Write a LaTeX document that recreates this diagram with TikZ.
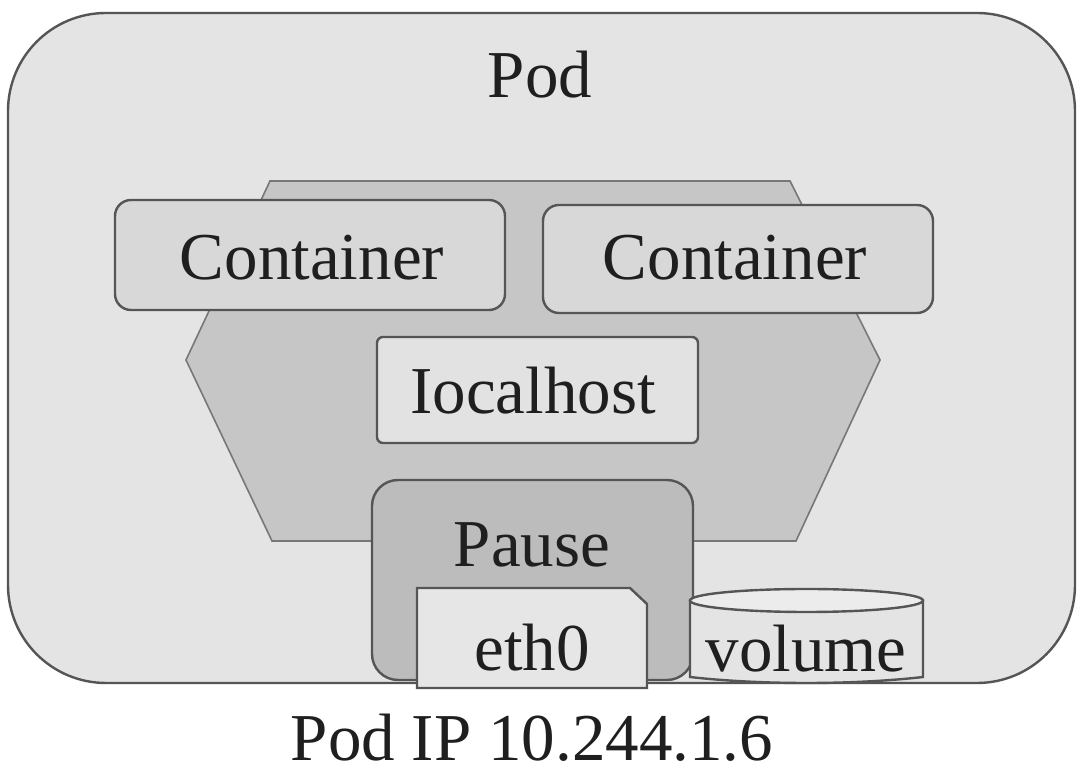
\documentclass[tikz,border=0pt]{standalone}
\usepackage{fontspec}
\setmainfont{Liberation Serif}
\definecolor{edge}{RGB}{85,85,85}
\definecolor{podfill}{RGB}{228,228,228}
\definecolor{hexfill}{RGB}{198,198,198}
\definecolor{contfill}{RGB}{216,216,216}
\definecolor{lhfill}{RGB}{226,226,226}
\definecolor{pausefill}{RGB}{188,188,188}
\definecolor{ethfill}{RGB}{230,230,230}
\definecolor{volfill}{RGB}{228,228,228}
\definecolor{voltop}{RGB}{236,236,236}
\begin{document}
\begin{tikzpicture}[x=0.5pt,y=-0.5pt,
  lbl/.style={font=\fontsize{33.5}{40}\selectfont, text=black!88, anchor=base, inner sep=0pt},
  box/.style={draw=edge, line width=1.2pt},
  boxnode/.style={box, inner sep=0pt, outer sep=0pt}]
\useasboundingbox (0,0) rectangle (1084,774);
\fill[white] (0,0) rectangle (1084,774);
% pod
\node[boxnode, fill=podfill, rounded corners=49pt, minimum width=533.5pt, minimum height=335pt] (pod) at (541.5,348) {};
% shared network namespace (hexagon)
\coordinate (h1) at (270,181);
\coordinate (h2) at (790,181);
\coordinate (h3) at (880,360);
\coordinate (h4) at (796,541);
\coordinate (h5) at (272,541);
\coordinate (h6) at (186,360);
\draw[draw=edge!80, line width=0.8pt, fill=hexfill] (h1) -- (h2) -- (h3) -- (h4) -- (h5) -- (h6) -- cycle;
% containers
\node[boxnode, fill=contfill, rounded corners=8pt, minimum width=195pt, minimum height=55pt] (c1) at (310,255) {};
\node[boxnode, fill=contfill, rounded corners=8pt, minimum width=195pt, minimum height=54pt] (c2) at (738,259) {};
% localhost
\node[boxnode, fill=lhfill, rounded corners=3pt, minimum width=160.5pt, minimum height=53pt] (lh) at (537.5,390) {};
% pause
\node[boxnode, fill=pausefill, rounded corners=13pt, minimum width=160.5pt, minimum height=100pt] (pause) at (532.5,580) {};
% eth0
\coordinate (e1) at (417,588);
\coordinate (e2) at (630,588);
\coordinate (e3) at (647,604);
\coordinate (e4) at (647,688);
\coordinate (e5) at (417,688);
\draw[box, fill=ethfill] (e1) -- (e2) -- (e3) -- (e4) -- (e5) -- cycle;
% volume
\coordinate (v1) at (690,600.5);
\coordinate (v2) at (690,677);
\coordinate (v3) at (923,677);
\coordinate (v4) at (923,600.5);
\coordinate (vc) at (806.5,600.5);
\draw[box, fill=volfill] (v1) -- (v2) .. controls (760,685) and (853,685) .. (v3) -- (v4) -- cycle;
\draw[box, fill=voltop] (vc) ellipse [x radius=58.25pt, y radius=5.75pt];
% labels
\node[lbl] (tpod) at (540,98) {Pod};
\node[lbl] (tc1) at (312,280) {Container};
\node[lbl] (tc2) at (735,280) {Container};
\node[lbl] (tlh) at (533,414) {Iocalhost};
\node[lbl] (tpause) at (532,567) {Pause};
\node[lbl] (teth) at (532,671) {eth0};
\node[lbl] (tvol) at (806,672) {volume};
\node[lbl] (tip) at (532,761) {Pod IP 10.244.1.6};
\end{tikzpicture}
\end{document}
